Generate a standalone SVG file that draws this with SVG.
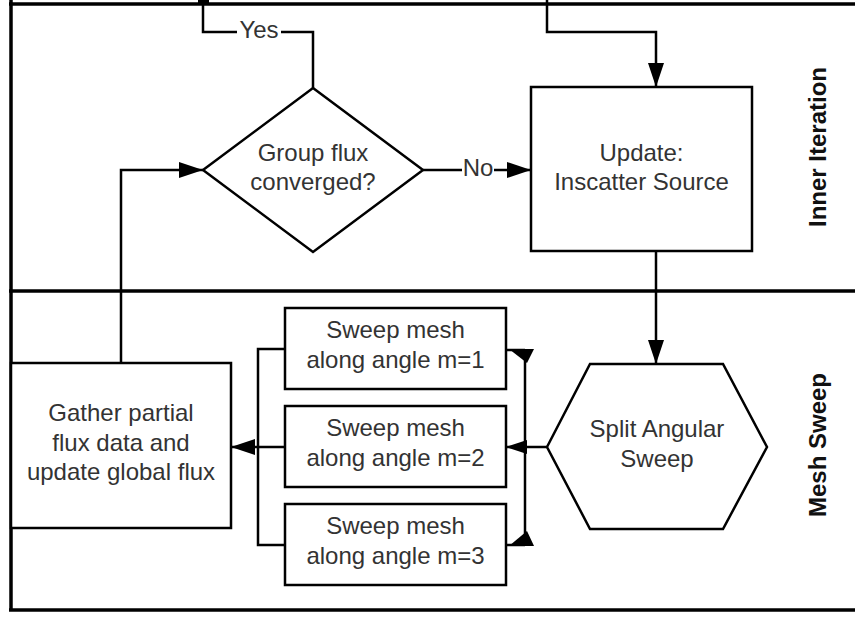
<svg xmlns="http://www.w3.org/2000/svg" width="855" height="617" viewBox="0 0 855 617">
<defs>
<marker id="arr" viewBox="0 0 24 16" refX="24" refY="8" markerWidth="24" markerHeight="16" markerUnits="userSpaceOnUse" orient="auto">
<path d="M0,0 L24,8 L0,16 z" fill="#000"/>
</marker>
</defs>
<style>
.n{fill:#fff;stroke:#000;stroke-width:2.5}
.c{fill:none;stroke:#000;stroke-width:2.5}
.t{font-family:"Liberation Sans",Arial,sans-serif;font-size:24px;fill:#333;text-anchor:middle}
.l{font-family:"Liberation Sans",Arial,sans-serif;font-size:24px;font-weight:bold;fill:#111;text-anchor:middle}
.lane{stroke:#000;stroke-width:3.5;fill:none}
</style>
<rect width="855" height="617" fill="#fff"/>
<g id="lanes">
<line class="lane" x1="9" y1="4" x2="855" y2="4"/>
<line class="lane" x1="11" y1="0" x2="11" y2="610"/>
<line class="lane" x1="9" y1="291" x2="855" y2="291"/>
<line class="lane" x1="9" y1="610" x2="855" y2="610"/>
<text class="l" transform="translate(826,147) rotate(-90)">Inner Iteration</text>
<text class="l" transform="translate(826,445) rotate(-90)">Mesh Sweep</text>
</g>
<g id="connectors">
<polyline class="c" points="313,88 313,32 281,32"/>
<polyline class="c" points="237,32 203,32 203,2"/>
<rect x="198" y="0" width="11" height="5" fill="#000"/>
<polyline class="c" points="547,0 547,32 656,32 656,87" marker-end="url(#arr)"/>
<line class="c" x1="423" y1="170" x2="462" y2="170"/>
<line class="c" x1="494" y1="170" x2="531" y2="170" marker-end="url(#arr)"/>
<line class="c" x1="656" y1="251" x2="656" y2="364" marker-end="url(#arr)"/>
<polyline class="c" points="121,363 121,170 203,170" marker-end="url(#arr)"/>
<line class="c" x1="547" y1="447" x2="525" y2="447"/>
<line class="c" x1="525" y1="350" x2="525" y2="545"/>
<line class="c" x1="525" y1="447" x2="506" y2="447"/>
<polygon points="527,440 506,447 527,454" fill="#000"/>
<line class="c" x1="525" y1="350" x2="506" y2="350"/>
<polygon points="509,349 534,349 527,363" fill="#000"/>
<line class="c" x1="525" y1="545" x2="506" y2="545"/>
<polygon points="509,546 534,546 527,531" fill="#000"/>
<polyline class="c" points="285,349 258,349 258,545 285,545"/>
<line class="c" x1="285" y1="447" x2="231" y2="447" marker-end="url(#arr)"/>
<text class="t" x="259" y="38">Yes</text>
<text class="t" x="478" y="176">No</text>
</g>
<g id="decision">
<polygon class="n" points="313,88 423,170 313,252 203,170"/>
<text class="t" x="313" y="161">Group flux</text>
<text class="t" x="313" y="190">converged?</text>
</g>
<g id="update">
<rect class="n" x="531" y="87" width="221" height="164"/>
<text class="t" x="641.5" y="161">Update:</text>
<text class="t" x="641.5" y="190">Inscatter Source</text>
</g>
<g id="split">
<polygon class="n" points="547,447 590,364 723,364 767,447 723,529 590,529"/>
<text class="t" x="657" y="437">Split Angular</text>
<text class="t" x="657" y="467">Sweep</text>
</g>
<g id="sweep1">
<rect class="n" x="285" y="308" width="221" height="81"/>
<text class="t" x="395.5" y="338">Sweep mesh</text>
<text class="t" x="395.5" y="368">along angle m=1</text>
</g>
<g id="sweep2">
<rect class="n" x="285" y="406" width="221" height="81"/>
<text class="t" x="395.5" y="436">Sweep mesh</text>
<text class="t" x="395.5" y="466">along angle m=2</text>
</g>
<g id="sweep3">
<rect class="n" x="285" y="504" width="221" height="81"/>
<text class="t" x="395.5" y="534">Sweep mesh</text>
<text class="t" x="395.5" y="564">along angle m=3</text>
</g>
<g id="gather">
<rect class="n" x="11" y="363" width="220" height="165"/>
<text class="t" x="121" y="421">Gather partial</text>
<text class="t" x="121" y="450.5">flux data and</text>
<text class="t" x="121" y="480">update global flux</text>
</g>
</svg>
